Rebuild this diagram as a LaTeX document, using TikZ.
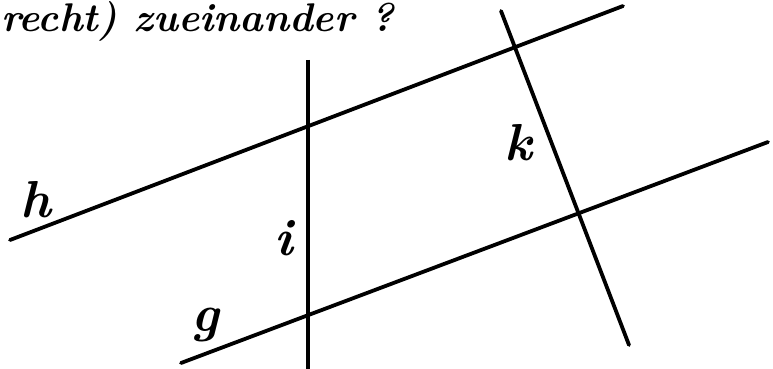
\documentclass[tikz,border=0pt]{standalone}
\begin{document}
\begin{tikzpicture}[x=1pt,y=-1pt,
  ln/.style={line width=3.8pt,line cap=round},
  lbl/.style={font=\fontsize{52}{56}\selectfont\itshape\bfseries,inner sep=0pt}]
\clip (0,0) rectangle (773,369);
\fill[white] (0,0) rectangle (773,369);
% text at top
\node[font=\fontsize{40}{44}\selectfont\itshape\bfseries,anchor=base west,inner sep=0pt] (title) at (1,32) {recht) zueinander ?};
% lines
\coordinate (h1) at (10,240); \coordinate (h2) at (623,6);
\coordinate (g1) at (181,363); \coordinate (g2) at (768,142);
\coordinate (i1) at (308,60); \coordinate (i2) at (308,372);
\coordinate (k1) at (501,11); \coordinate (k2) at (629,345);
\draw[ln] (h1) -- (h2);
\draw[ln] (g1) -- (g2);
\draw[ln,line cap=butt] (i1) -- (i2);
\draw[ln] (k1) -- (k2);
% labels
\node[lbl] (lh) at (36,200) {h};
\node[lbl] (li) at (284,238) {i};
\node[lbl] (lk) at (518,143) {k};
\node[lbl] (lg) at (205,325) {g};
\end{tikzpicture}
\end{document}
